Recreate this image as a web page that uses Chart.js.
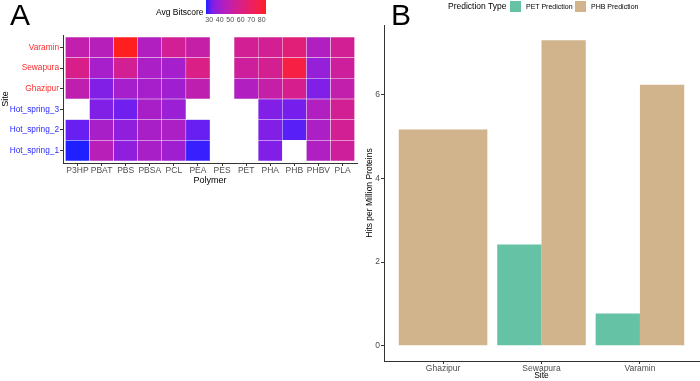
<!DOCTYPE html>
<html>
<head>
<meta charset="utf-8">
<script src="https://cdn.jsdelivr.net/npm/chart.js@4.4.1/dist/chart.umd.min.js"></script>
<style>
  body { margin: 0; background: #fff; font-family: "Liberation Sans", Arial, sans-serif; }
  #wrap { position: relative; width: 700px; height: 381px; overflow: hidden; background: #fff; }
  canvas { position: absolute; top: 0; }
  .tag { position: absolute; top: 0; font-size: 30px; line-height: 30px; color: #000; }
  .txt { position: absolute; white-space: nowrap; color: #000; }
  .sw { position: absolute; width: 11px; height: 11px; }
</style>
</head>
<body>
<div id="wrap">
  <canvas id="heat" width="360" height="200" style="left:0"></canvas>
  <canvas id="bars" width="340" height="381" style="left:360px"></canvas>
  <div class="tag" style="left:10px">A</div>
  <div class="tag" style="left:391px">B</div>
  <div class="txt" style="left:156px;top:7px;font-size:8.5px;line-height:10px">Avg Bitscore</div>
  <div id="cbar" style="position:absolute;left:206px;top:0;width:60px;height:14px"></div>
  <div id="cticks"></div>
  <div id="blegend"></div>
</div>
<script>
// ---- panel A: average bitscore per site and polymer ----
var polymers = ["P3HP", "PBAT", "PBS", "PBSA", "PCL", "PEA", "PES", "PET", "PHA", "PHB", "PHBV", "PLA"];
var heatSites = ["Hot_spring_1", "Hot_spring_2", "Hot_spring_3", "Ghazipur", "Sewapura", "Varamin"];
var hotSpring1 = [26.9, 46.3, 36.0, 41.7, 39.4, 27.4, null, null, 33.7, null, 43.5, 54.3];
var hotSpring2 = [30.3, 41.7, 36.0, 41.7, 42.9, 30.3, null, null, 33.7, 29.1, 42.9, 56.6];
var hotSpring3 = [null, 33.7, 31.4, 41.7, 38.3, null, null, null, 33.7, 32.0, 44.0, 56.6];
var ghazipur   = [48.6, 33.7, 40.6, 41.2, 39.4, 48.6, null, 44.0, 50.9, 58.3, 33.7, 49.7];
var sewapura   = [59.5, 41.2, 56.6, 42.3, 40.6, 60.1, null, 54.3, 57.2, 78.4, 37.2, 54.3];
var varamin    = [49.7, 45.7, 84.1, 44.0, 56.6, 50.9, null, 56.6, 56.6, 64.1, 44.0, 56.6];
var scoreTicks = [30, 40, 50, 60, 70, 80];

// ---- panel B: hits per million proteins ----
var barSites = ["Ghazipur", "Sewapura", "Varamin"];
var petHits = [null, 2.42, 0.77];
var phbHits = [5.17, 7.30, 6.24];
var hitTicks = [0, 2, 4, 6];

Chart.defaults.font.family = '"Liberation Sans", Arial, sans-serif';

// blue -> red in CIELAB, like ggplot's gradient
function lin(c){ c /= 255; return c <= 0.04045 ? c / 12.92 : Math.pow((c + 0.055) / 1.055, 2.4); }
function gam(c){ c = Math.max(0, Math.min(1, c)); return Math.round(255 * (c <= 0.0031308 ? 12.92 * c : 1.055 * Math.pow(c, 1 / 2.4) - 0.055)); }
function toLab(r, g, b){
	r = lin(r); g = lin(g); b = lin(b);
	var x = (0.4124 * r + 0.3576 * g + 0.1805 * b) / 0.95047;
	var y = 0.2126 * r + 0.7152 * g + 0.0722 * b;
	var z = (0.0193 * r + 0.1192 * g + 0.9505 * b) / 1.08883;
	var f = function(t){ return t > 0.008856 ? Math.cbrt(t) : 7.787 * t + 16 / 116; };
	return [116 * f(y) - 16, 500 * (f(x) - f(y)), 200 * (f(y) - f(z))];
}
function fromLab(L, a, bb){
	var fy = (L + 16) / 116, fx = fy + a / 500, fz = fy - bb / 200;
	var inv = function(t){ return t > 0.206893 ? t * t * t : (t - 16 / 116) / 7.787; };
	var x = inv(fx) * 0.95047, y = inv(fy), z = inv(fz) * 1.08883;
	return [gam(3.2406 * x - 1.5372 * y - 0.4986 * z),
	        gam(-0.9689 * x + 1.8758 * y + 0.0415 * z),
	        gam(0.0557 * x - 0.2040 * y + 1.0570 * z)];
}
var labLow = toLab(0, 0, 255), labHigh = toLab(255, 0, 0);
var allScores = [].concat(hotSpring1, hotSpring2, hotSpring3, ghazipur, sewapura, varamin).filter(function(v){ return v != null; });
var scoreMin = Math.min.apply(null, allScores), scoreMax = Math.max.apply(null, allScores);
function rampAt(t, alpha){
	var c = fromLab(labLow[0] + (labHigh[0] - labLow[0]) * t, labLow[1] + (labHigh[1] - labLow[1]) * t, labLow[2] + (labHigh[2] - labLow[2]) * t);
	return 'rgba(' + c[0] + ',' + c[1] + ',' + c[2] + ',' + alpha + ')';
}
function scoreColor(v){ return rampAt((v - scoreMin) / (scoreMax - scoreMin), 0.88); }

var heatRows = [hotSpring1, hotSpring2, hotSpring3, ghazipur, sewapura, varamin];

var heatData = heatRows.map(function(row, r){
	return {
		label: heatSites[r],
		data: row.map(function(v, i){ return v == null ? null : {x: i + 1, y: [r + 0.5, r + 1.5], v: v}; })
		         .filter(function(d){ return d; }),
		backgroundColor: function(ctx){ return ctx.raw ? scoreColor(ctx.raw.v) : 'transparent'; },
		borderColor: 'rgba(255,255,255,0.5)',
		borderWidth: 0.5,
		borderSkipped: false,
		grouped: false,
		barPercentage: 1,
		categoryPercentage: 1
	};
});

var axisGrid = {display: true, offset: false, drawOnChartArea: false, drawTicks: true, tickLength: 3, color: '#333', lineWidth: 1};
var axisBorder = {display: true, color: '#333', width: 1};

new Chart(document.getElementById('heat'), {
	type: 'bar',
	data: {datasets: heatData},
	options: {
		responsive: false,
		animation: false,
		layout: {padding: {left: 0, right: 3, top: 35, bottom: 14}},
		plugins: {legend: {display: false}, tooltip: {enabled: false}},
		scales: {
			x: {
				type: 'linear', min: 0.4, max: 12.6, offset: false,
				afterBuildTicks: function(s){ s.ticks = polymers.map(function(p, i){ return {value: i + 1}; }); },
				afterFit: function(s){ s.height = 23; },
				ticks: {callback: function(v){ return polymers[v - 1]; }, font: {size: 8.5}, color: '#4d4d4d', padding: 0, maxRotation: 0, autoSkip: false},
				grid: axisGrid, border: axisBorder,
				title: {display: true, text: 'Polymer', font: {size: 9}, color: '#000', padding: 0}
			},
			y: {
				type: 'linear', min: 0.4, max: 6.6, offset: false,
				afterBuildTicks: function(s){ s.ticks = heatSites.map(function(p, i){ return {value: i + 1}; }); },
				afterFit: function(s){ s.width = 63; },
				ticks: {
					callback: function(v){ return heatSites[v - 1]; }, font: {size: 8.3}, padding: 1, autoSkip: false,
					color: function(ctx){ return ctx.tick && ctx.tick.value >= 4 ? '#ff2a2a' : '#2a2aff'; }
				},
				grid: axisGrid, border: axisBorder,
				title: {display: true, text: 'Site', font: {size: 9}, color: '#000', padding: 0}
			}
		}
	}
});

// colour bar legend for panel A
(function(){
	var stops = [];
	for (var k = 0; k <= 10; k++) stops.push(rampAt(k / 10, 0.88) + ' ' + (k * 10) + '%');
	document.getElementById('cbar').style.background = 'linear-gradient(to right,' + stops.join(',') + ')';
	var html = '';
	scoreTicks.forEach(function(v){
		var x = 206 + (v - scoreMin) / (scoreMax - scoreMin) * 60;
		html += '<div class="txt" style="left:' + (x - 10) + 'px;width:20px;text-align:center;top:15px;font-size:7px;line-height:9px;color:#4d4d4d">' + v + '</div>';
	});
	document.getElementById('cticks').innerHTML = html;
})();

// ---- panel B ----
var phbMax = Math.max.apply(null, phbHits);
var barDatasets = [
	{label: 'PET Prediction', data: barSites.map(function(s, i){ return {x: i + 1, y: petHits[i]}; }), backgroundColor: '#66C2A5'},
	{label: 'PHB Prediction', data: barSites.map(function(s, i){ return {x: i + 1, y: phbHits[i]}; }), backgroundColor: '#D2B48C'}
];
barDatasets.forEach(function(d){ d.skipNull = true; d.barPercentage = 1; d.categoryPercentage = 0.9; d.borderWidth = 0; });

new Chart(document.getElementById('bars'), {
	type: 'bar',
	data: {datasets: barDatasets},
	options: {
		responsive: false,
		animation: false,
		layout: {padding: {left: 5, right: 1, top: 25, bottom: 0}},
		plugins: {legend: {display: false}, tooltip: {enabled: false}},
		scales: {
			x: {
				type: 'linear', min: 0.4, max: 3.6, offset: false,
				afterBuildTicks: function(s){ s.ticks = barSites.map(function(p, i){ return {value: i + 1}; }); },
				afterFit: function(s){ s.height = 20; },
				ticks: {callback: function(v){ return barSites[v - 1]; }, font: {size: 8.5}, color: '#4d4d4d', padding: 0, maxRotation: 0, autoSkip: false},
				grid: axisGrid, border: axisBorder,
				title: {display: true, text: 'Site', font: {size: 8.5}, color: '#000', padding: 0}
			},
			y: {
				type: 'linear', min: -0.05 * phbMax, max: 1.05 * phbMax,
				afterBuildTicks: function(s){ s.ticks = hitTicks.map(function(v){ return {value: v}; }); },
				afterFit: function(s){ s.width = 19; },
				ticks: {font: {size: 8.5}, color: '#4d4d4d', padding: 1},
				grid: axisGrid, border: axisBorder,
				title: {display: true, text: 'Hits per Million Proteins', font: {size: 8.5}, color: '#000', padding: 0}
			}
		}
	}
});

// legend for panel B, on one line like the original
(function(){
	var html = '<div class="txt" style="left:448px;top:1px;font-size:8.5px;line-height:11px">Prediction Type</div>';
	var lefts = [510, 575];
	barDatasets.forEach(function(d, i){
		html += '<div class="sw" style="left:' + lefts[i] + 'px;top:1px;background:' + d.backgroundColor + '"></div>';
		html += '<div class="txt" style="left:' + (lefts[i] + 16) + 'px;top:2px;font-size:7px;line-height:9px">' + d.label + '</div>';
	});
	document.getElementById('blegend').innerHTML = html;
})();
</script>
</body>
</html>
